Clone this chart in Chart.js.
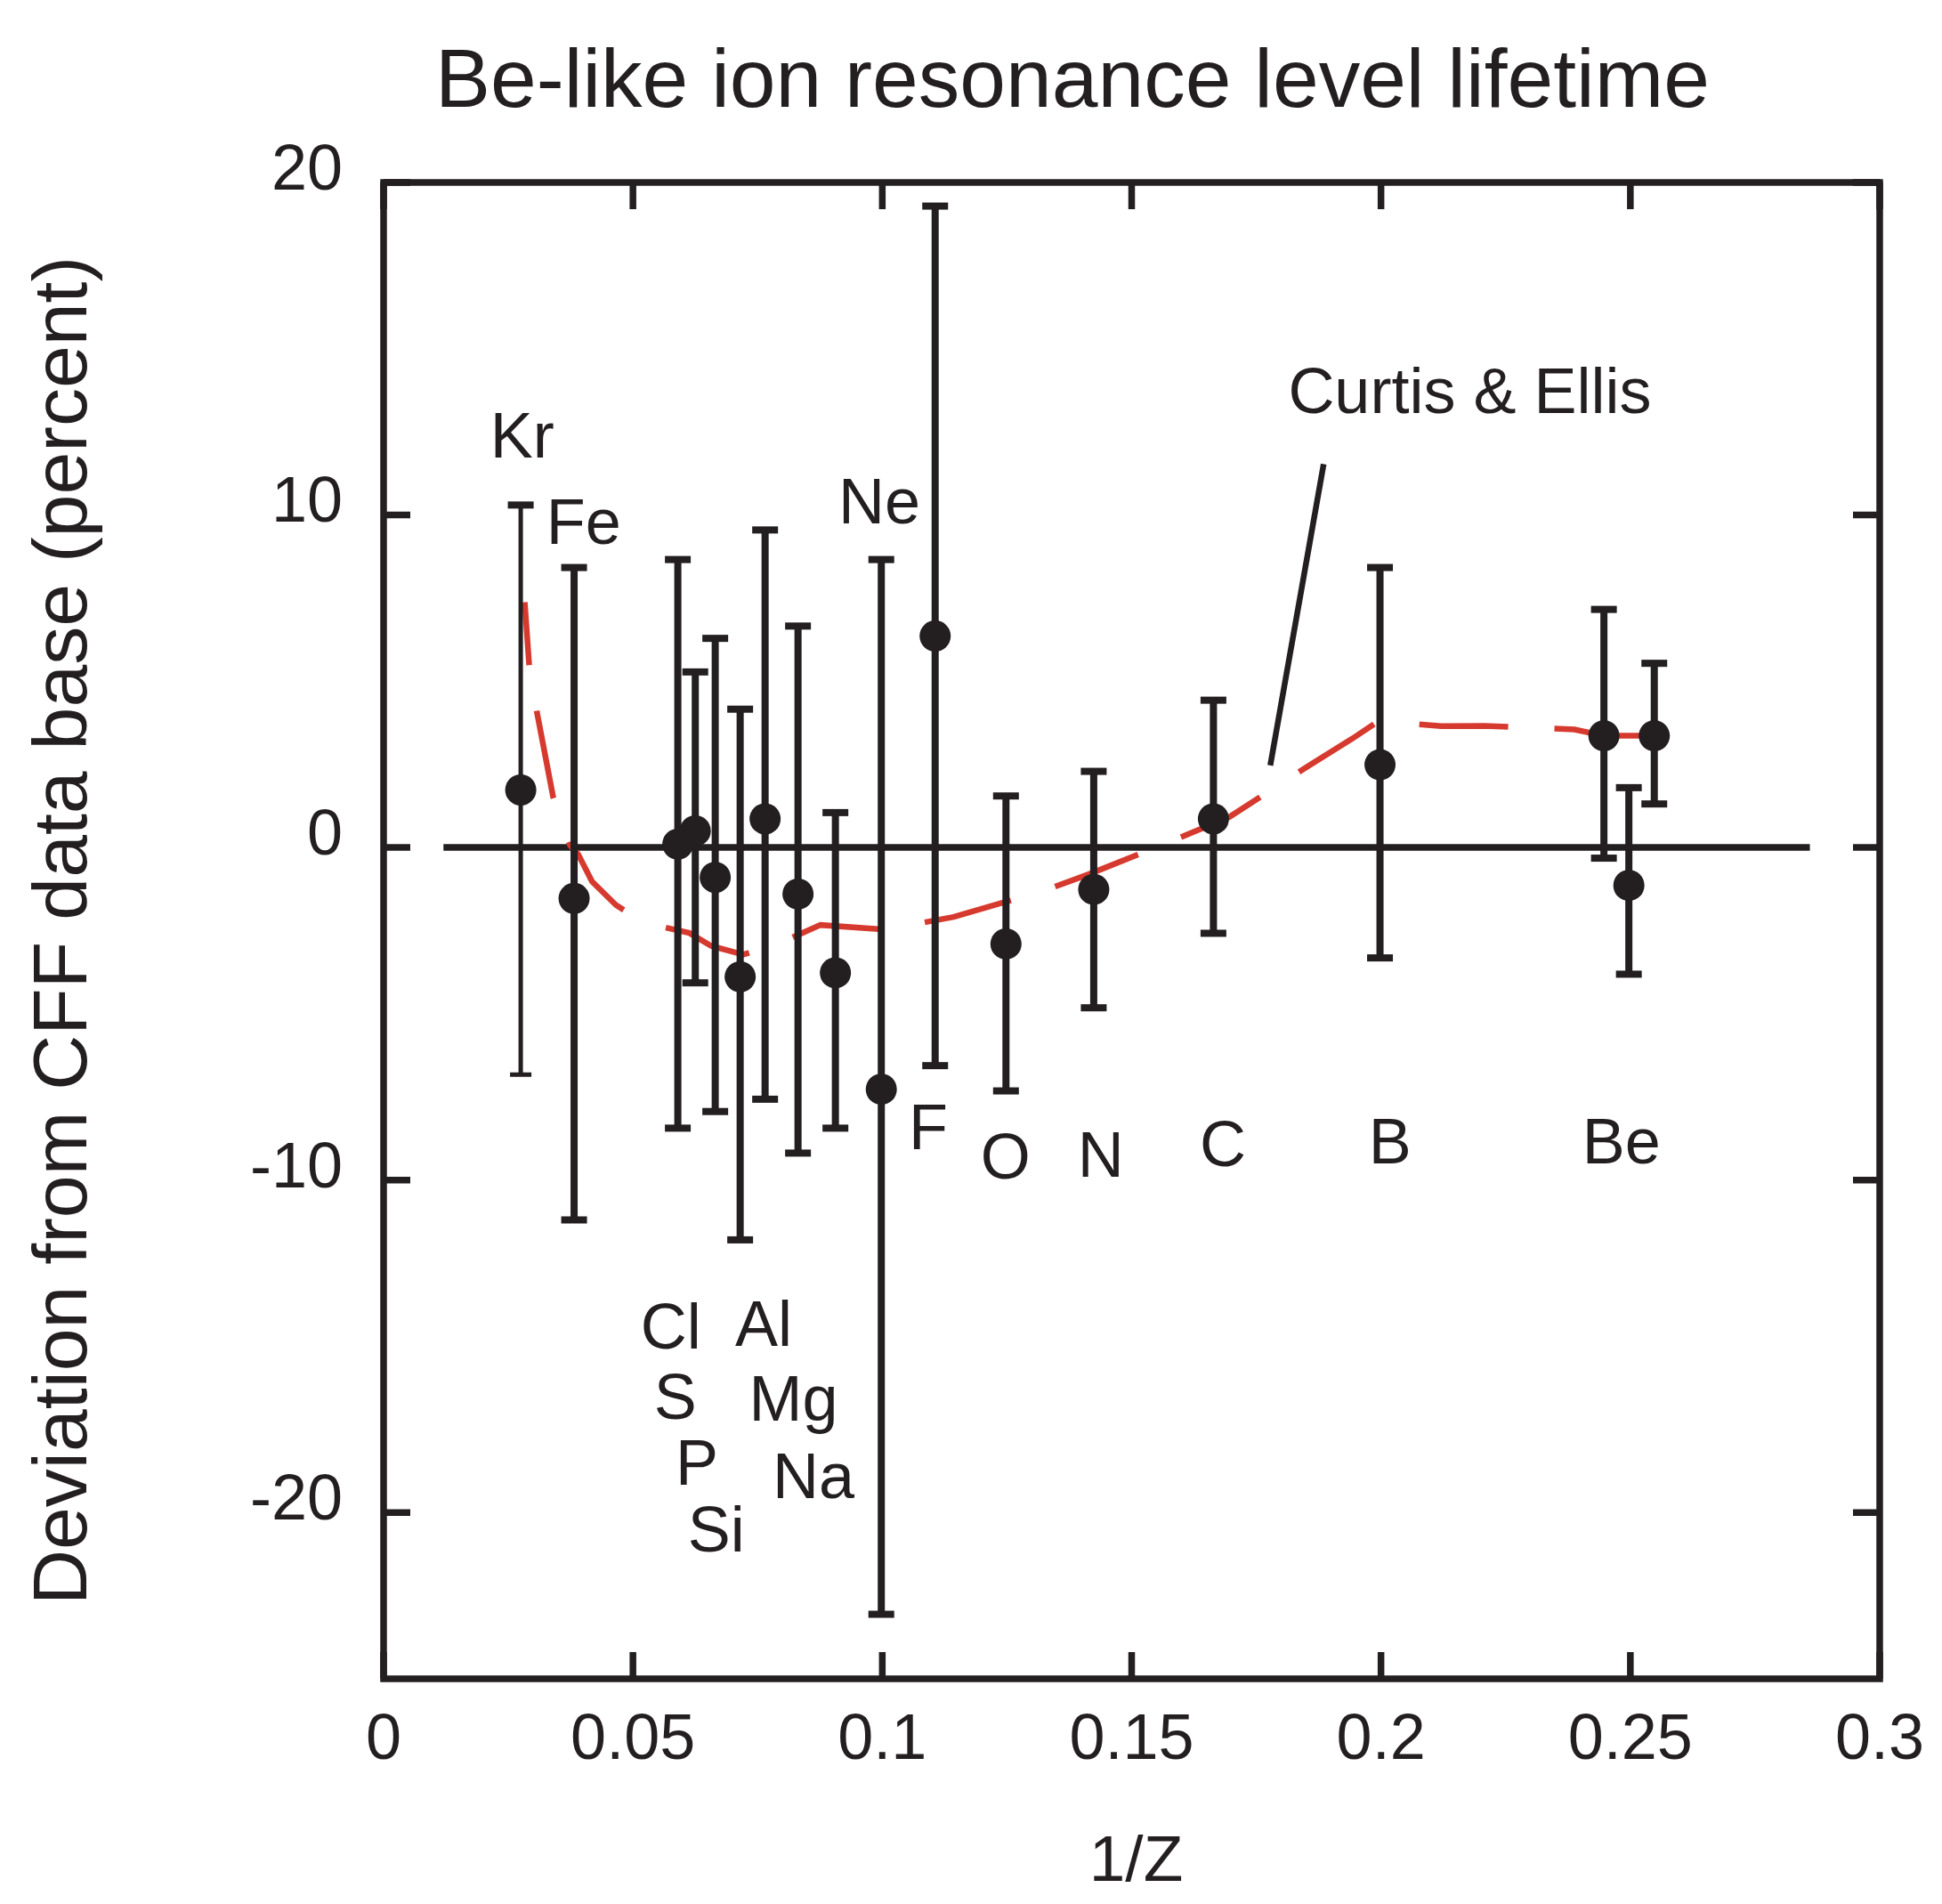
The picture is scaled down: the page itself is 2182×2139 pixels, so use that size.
<!DOCTYPE html>
<html>
<head>
<meta charset="utf-8">
<script src="https://cdn.jsdelivr.net/npm/chart.js@4.4.1/dist/chart.umd.min.js"></script>
<style>
  html, body { margin: 0; padding: 0; background: #fff; }
  canvas { display: block; }
</style>
</head>
<body>
<canvas id="chart" width="2182" height="2139" style="width:2182px;height:2139px"></canvas>
<script>
// measured points (1/Z, deviation in percent) with error bar ends
const ions = ['Kr', 'Fe', 'Cl', 'S', 'P', 'Si', 'Al', 'Mg', 'Na', 'Ne', 'F', 'O', 'N', 'C', 'B', 'Be', 'Be', 'Be'];
const invZ = [0.0275, 0.0382, 0.0590, 0.0625, 0.0665, 0.0715, 0.0765, 0.0831, 0.0906, 0.0998, 0.1106, 0.1248, 0.1424, 0.1664, 0.1998, 0.2447, 0.2497, 0.2548];
const deviation = [1.73, -1.53, 0.10, 0.50, -0.90, -3.89, 0.86, -1.40, -3.77, -7.27, 6.36, -2.90, -1.26, 0.86, 2.49, 3.36, -1.14, 3.36];
const errHigh = [10.3, 8.42, 8.66, 5.28, 6.29, 4.16, 9.55, 6.66, 1.05, 8.66, 19.29, 1.55, 2.29, 4.43, 8.42, 7.16, 1.80, 5.54];
const errLow = [-6.83, -11.2, -8.44, -4.07, -7.94, -11.8, -7.57, -9.19, -8.44, -23.06, -6.56, -7.32, -4.82, -2.58, -3.32, -0.32, -3.81, 1.31];

// Curtis & Ellis curve
const curveX = [0.0283, 0.0292, 0.0307, 0.0340, 0.0374, 0.0390, 0.0418, 0.0466, 0.0520, 0.0613, 0.0657, 0.0721, 0.0786, 0.0876, 0.0992, 0.1055, 0.1143, 0.1322, 0.1413, 0.1586, 0.1696, 0.1853, 0.1943, 0.1995, 0.2121, 0.2207, 0.2388, 0.2447, 0.2548];
const curveY = [7.38, 5.47, 4.11, 1.52, 0.06, -0.20, -1.02, -1.73, -2.25, -2.57, -2.96, -3.22, -2.93, -2.33, -2.45, -2.33, -2.09, -1.31, -0.81, 0.23, 0.92, 2.44, 3.28, 3.80, 3.65, 3.66, 3.55, 3.36, 3.36];

const xTicks = [0, 0.05, 0.1, 0.15, 0.2, 0.25, 0.3];
const yTicks = [20, 10, 0, -10, -20];

// text placed inside the plot, in data units
const noteText = ['Kr', 'Fe', 'Ne', 'F', 'O', 'N', 'C', 'B', 'Be', 'Cl', 'Al', 'S', 'Mg', 'P', 'Na', 'Si', 'Curtis & Ellis'];
const noteX = [0.0278, 0.0401, 0.0994, 0.1092, 0.1247, 0.1438, 0.1683, 0.2018, 0.2482, 0.0576, 0.0762, 0.0585, 0.0822, 0.0628, 0.0862, 0.0667, 0.2178];
const noteY = [11.73, 9.14, 9.75, -9.08, -9.95, -9.91, -9.59, -9.49, -9.49, -15.08, -15.0, -17.17, -17.24, -19.16, -19.57, -21.18, 13.07];
const pointerX = [0.1885, 0.1778];
const pointerY = [11.53, 2.47];
const zeroLineX = [0.012, 0.286];

const INK = '#231f20';
const RED = '#d63a2f';
const FONT = '"Liberation Sans", Arial, Helvetica, sans-serif';

const extras = {
  id: 'extras',
  beforeDatasetsDraw(chart) {
    const { ctx, scales: { x, y } } = chart;
    ctx.save();
    ctx.strokeStyle = INK;
    ctx.lineWidth = 7.5;
    ctx.beginPath();
    ctx.moveTo(x.getPixelForValue(zeroLineX[0]), y.getPixelForValue(0));
    ctx.lineTo(x.getPixelForValue(zeroLineX[1]), y.getPixelForValue(0));
    ctx.stroke();
    ctx.restore();
  },
  afterDatasetDraw(chart, args) {
    if (args.index !== 1) return;
    const { ctx, scales: { x, y } } = chart;
    ctx.save();
    ctx.strokeStyle = INK;
    ctx.lineCap = 'butt';
    invZ.forEach((v, i) => {
      const px = x.getPixelForValue(v);
      const top = y.getPixelForValue(errHigh[i]);
      const bot = y.getPixelForValue(errLow[i]);
      const thin = ions[i] === 'Kr';
      ctx.lineWidth = thin ? 5 : 8;
      ctx.beginPath();
      ctx.moveTo(px, top);
      ctx.lineTo(px, bot);
      ctx.stroke();
      ctx.lineWidth = 8;
      ctx.beginPath();
      ctx.moveTo(px - 14.5, top);
      ctx.lineTo(px + 14.5, top);
      ctx.stroke();
      ctx.lineWidth = thin ? 5 : 8;
      const half = thin ? 12 : 14.5;
      ctx.beginPath();
      ctx.moveTo(px - half, bot);
      ctx.lineTo(px + half, bot);
      ctx.stroke();
    });
    ctx.restore();
  },
  afterDraw(chart) {
    const { ctx, chartArea: a, scales: { x, y } } = chart;
    ctx.save();
    ctx.strokeStyle = INK;
    ctx.fillStyle = INK;
    ctx.lineWidth = 7.5;
    // frame
    ctx.strokeRect(a.left, a.top, a.right - a.left, a.bottom - a.top);
    // inward ticks on all four sides
    xTicks.forEach(v => {
      const px = x.getPixelForValue(v);
      ctx.beginPath();
      ctx.moveTo(px, a.bottom); ctx.lineTo(px, a.bottom - 30);
      ctx.moveTo(px, a.top); ctx.lineTo(px, a.top + 30);
      ctx.stroke();
    });
    yTicks.forEach(v => {
      const py = y.getPixelForValue(v);
      ctx.beginPath();
      ctx.moveTo(a.left, py); ctx.lineTo(a.left + 30, py);
      ctx.moveTo(a.right, py); ctx.lineTo(a.right - 30, py);
      ctx.stroke();
    });
    // pointer to the curve
    ctx.lineWidth = 6.5;
    ctx.beginPath();
    ctx.moveTo(x.getPixelForValue(pointerX[0]), y.getPixelForValue(pointerY[0]));
    ctx.lineTo(x.getPixelForValue(pointerX[1]), y.getPixelForValue(pointerY[1]));
    ctx.stroke();

    // annotations
    ctx.font = '72px ' + FONT;
    ctx.textAlign = 'center';
    ctx.textBaseline = 'alphabetic';
    noteText.forEach((t, i) => {
      ctx.fillText(t, x.getPixelForValue(noteX[i]), y.getPixelForValue(noteY[i]));
    });

    // title and axis titles
    ctx.font = '93px ' + FONT;
    ctx.fillText('Be-like ion resonance level lifetime', 1205, 120);
    ctx.font = '73px ' + FONT;
    ctx.fillText('1/Z', (a.left + a.right) / 2 + 5, 2113);
    ctx.translate(97, (a.top + a.bottom) / 2);
    ctx.rotate(-Math.PI / 2);
    ctx.font = '86px ' + FONT;
    ctx.fillText('Deviation from CFF data base (percent)', 0, 0);
    ctx.restore();
  }
};

new Chart(document.getElementById('chart'), {
  type: 'scatter',
  data: {
    datasets: [
      {
        label: 'measured',
        data: invZ.map((v, i) => ({ x: v, y: deviation[i] })),
        backgroundColor: INK,
        borderWidth: 0,
        pointRadius: 17.5,
        order: 0
      },
      {
        label: 'Curtis & Ellis',
        type: 'line',
        data: curveX.map((v, i) => ({ x: v, y: curveY[i] })),
        borderColor: RED,
        borderWidth: 6.5,
        borderDash: [100, 52],
        borderDashOffset: 29,
        pointRadius: 0,
        fill: false,
        tension: 0,
        order: 1
      }
    ]
  },
  options: {
    responsive: false,
    animation: false,
    devicePixelRatio: 1,
    layout: { padding: { left: 0, top: 205, right: 70, bottom: 0 } },
    plugins: { legend: { display: false }, tooltip: { enabled: false } },
    scales: {
      x: {
        type: 'linear',
        min: 0,
        max: 0.3,
        grid: { display: false, drawTicks: false },
        border: { display: false },
        afterBuildTicks: s => { s.ticks = xTicks.map(v => ({ value: v })); },
        afterFit: s => { s.height = 253; s.paddingLeft = 0; s.paddingRight = 0; },
        ticks: {
          padding: 27,
          color: INK,
          font: { family: FONT, size: 72 },
          maxRotation: 0,
          callback: v => String(v)
        }
      },
      y: {
        type: 'linear',
        min: -25,
        max: 20,
        grid: { display: false, drawTicks: false },
        border: { display: false },
        afterBuildTicks: s => { s.ticks = yTicks.map(v => ({ value: v })); },
        afterFit: s => { s.width = 431; s.paddingTop = 0; s.paddingBottom = 0; },
        ticks: {
          padding: 46,
          labelOffset: -12,
          color: INK,
          font: { family: FONT, size: 72 },
          callback: v => String(v)
        }
      }
    }
  },
  plugins: [extras]
});
</script>
</body>
</html>
